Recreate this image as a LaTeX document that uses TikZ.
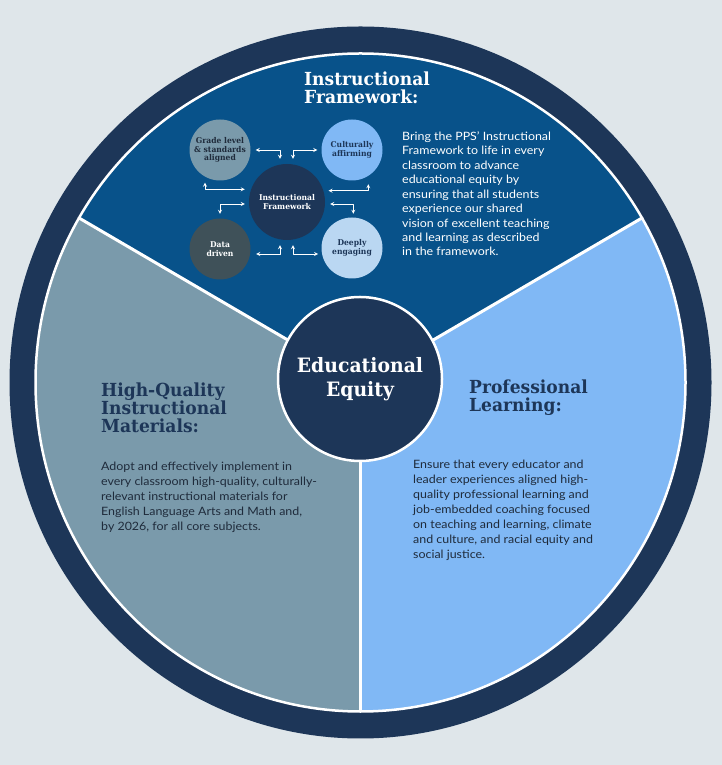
\documentclass[tikz,border=0pt]{standalone}
\usepackage{fontspec}
\newfontfamily\bodyfont[FakeStretch=1.08]{Lato}
\newfontfamily\slabfont[FakeStretch=0.95]{DejaVu Serif}
\definecolor{bgc}{HTML}{DFE6EA}
\definecolor{ringc}{HTML}{1D3658}
\definecolor{topc}{HTML}{08528A}
\definecolor{leftc}{HTML}{7A9AAB}
\definecolor{rightc}{HTML}{80B8F5}
\definecolor{paleblue}{HTML}{BAD7F2}
\definecolor{slate}{HTML}{3F5159}
\definecolor{inkc}{HTML}{1F2B3B}
\begin{document}
\begin{tikzpicture}[x=1pt,y=1pt,>=stealth,line join=round,line cap=round,
		bubble/.style={circle,minimum size=61pt,inner sep=0,align=center,font=\slabfont\bfseries\fontsize{8}{8.6}\selectfont},
		hub/.style={circle,fill=ringc,draw=white,line width=2.5,minimum size=164pt,inner sep=0,align=center,text=white,font=\slabfont\bfseries\fontsize{19.8}{23.5}\selectfont},
		head/.style={anchor=base west,align=left,inner sep=0,font=\slabfont\bfseries\fontsize{18}{18}\selectfont},
		body/.style={anchor=base west,align=left,inner sep=0,font=\bodyfont\fontsize{11.5}{15.1}\selectfont},
		link/.style={<->,white,line width=0.8}]
		\fill[bgc] (0,0) rectangle (722,765);
		\useasboundingbox (0,0) rectangle (722,765);
		\def\cx{360.5}
		\def\cy{382.5}
		\def\rx{325}
		\def\ry{329}
		\fill[ringc] (\cx,\cy) ellipse [x radius=351,y radius=356];
		\fill[leftc] (\cx,\cy) ellipse [x radius=\rx,y radius=\ry];
		\fill[topc] (\cx,\cy) -- +(30:{\rx} and {\ry}) arc[start angle=30,end angle=150,x radius=\rx,y radius=\ry] -- cycle;
		\fill[rightc] (\cx,\cy) -- +(-90:{\rx} and {\ry}) arc[start angle=-90,end angle=30,x radius=\rx,y radius=\ry] -- cycle;
		\foreach \a in {30,150,270}
			\draw[white,line width=3] (\cx,\cy) -- +(\a:{\rx} and {\ry});
		\draw[white,line width=2.5] (\cx,\cy) ellipse [x radius=\rx,y radius=\ry];
		\node[hub] (equity) at (360,386) {Educational\\Equity};
		\node[bubble,fill=leftc,text=inkc] (grade) at (220,615) {Grade level\\\& standards\\aligned};
		\node[bubble,fill=rightc,text=ringc] (affirm) at (352,615) {Culturally\\affirming};
		\node[bubble,fill=ringc,text=white,minimum size=76pt] (frame) at (287,563) {Instructional\\Framework};
		\node[bubble,fill=slate,text=white] (data) at (220,516) {Data\\driven};
		\node[bubble,fill=paleblue,text=ringc] (engage) at (352,517) {Deeply\\engaging};
		\draw[link] ([xshift=5]grade.east) -| ([shift={(-7,5)}]frame.north);
		\draw[link] ([shift={(6,5)}]frame.north) |- ([xshift=-4]affirm.west);
		\draw[link] ([shift={(-15,-2)}]grade.south) |- ([shift={(-4,12.7)}]frame.west);
		\draw[link] ([shift={(-4,-2)}]frame.west) -| ([yshift=4.5]data.north);
		\draw[link] ([shift={(3.3,11.3)}]frame.east) -| ([shift={(16.3,-3.5)}]affirm.south);
		\draw[link] ([shift={(5,-2)}]frame.east) -| ([shift={(1.3,3.5)}]engage.north);
		\draw[link] ([shift={(5.5,-5)}]data.east) -| ([shift={(-7,-5)}]frame.south);
		\draw[link] ([shift={(6,-5)}]frame.south) |- ([shift={(-3.2,-6)}]engage.west);
		\node[head,text=white] (tophead) at (304,661) {Instructional\\Framework:};
		\node[body,text=white,font=\bodyfont\fontsize{11.5}{14.45}\selectfont] (topbody) at (402,509) {Bring the PPS’ Instructional\\Framework to life in every\\classroom to advance\\educational equity by\\ensuring that all students\\experience our shared\\vision of excellent teaching\\and learning as described\\in the framework.};
		\node[head,text=ringc] (lefthead) at (101,332) {High-Quality\\Instructional\\Materials:};
		\node[body,text=inkc] (leftbody) at (101,234) {Adopt and effectively implement in\\every classroom high-quality, culturally-\\relevant instructional materials for\\English Language Arts and Math and,\\by 2026, for all core subjects.};
		\node[head,text=ringc] (righthead) at (469,353.3) {Professional\\Learning:};
		\node[body,text=inkc,font=\bodyfont\fontsize{11.5}{14.95}\selectfont] (rightbody) at (413,206.3) {Ensure that every educator and\\leader experiences aligned high-\\quality professional learning and\\job-embedded coaching focused\\on teaching and learning, climate\\and culture, and racial equity and\\social justice.};
\end{tikzpicture}
\end{document}
